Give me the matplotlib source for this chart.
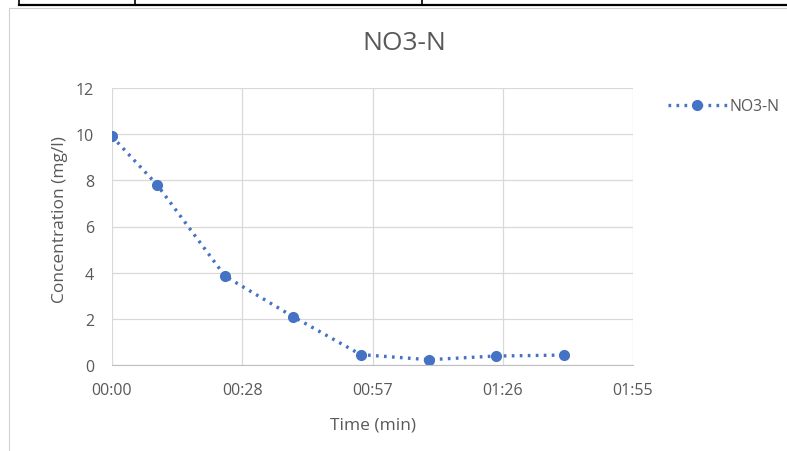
import matplotlib
matplotlib.use("Agg")
import matplotlib.pyplot as plt
from matplotlib.lines import Line2D
from matplotlib.patches import Rectangle
from matplotlib.ticker import FuncFormatter

# data (time in minutes, concentration in mg/l)
time_min = [0, 10, 25, 40, 55, 70, 85, 100]
no3_n = [9.9, 7.8, 3.85, 2.1, 0.45, 0.23, 0.39, 0.43]
x_ticks = [0, 28.8, 57.6, 86.4, 115.2]   # Excel major unit 0.02 day
y_ticks = [0, 2, 4, 6, 8, 10, 12]

W, H = 787, 452
BLUE = "#4472C4"
TXT = "#595959"
GRID = "#D9D9D9"

plt.rcParams['font.family'] = ['Open Sans', 'DejaVu Sans']


def fx(px):
    return px / W


def fy(py):
    return 1 - py / H


def hhmm(v, pos):
    return "%02d:%02d" % (int(v // 60), int(v % 60))


fig = plt.figure(figsize=(W / 100, H / 100), dpi=100)

# table border above the chart
fig.add_artist(Line2D([fx(19), fx(787)], [fy(6), fy(6)], color="black", lw=1.6))
for xv in [19, 135, 422]:
    fig.add_artist(Line2D([fx(xv), fx(xv)], [fy(0), fy(6)], color="black", lw=1.2))

# chart area frame
fig.add_artist(Rectangle((fx(9), fy(470)), fx(800), fy(9) - fy(470),
                         fill=False, ec="#D0D0D0", lw=0.8))

# plot area in pixels: x 112..633, y 89..366
ax = fig.add_axes([fx(112), fy(366), fx(633 - 112), fy(89) - fy(366)])
ax.plot(time_min, no3_n, linestyle=(0, (0.8, 1.6)), lw=2.4, color=BLUE,
        marker="o", markersize=7, label="NO3-N")

ax.set_xlim(x_ticks[0], x_ticks[-1])
ax.set_ylim(y_ticks[0], y_ticks[-1])
ax.set_xticks(x_ticks)
ax.set_yticks(y_ticks)
ax.xaxis.set_major_formatter(FuncFormatter(hhmm))
ax.grid(True, color=GRID, lw=0.9)
ax.set_axisbelow(True)
for s in ["top", "right", "left"]:
    ax.spines[s].set_visible(False)
ax.spines["bottom"].set_color("#BFBFBF")
ax.tick_params(length=0, colors=TXT, labelsize=11.5)
ax.tick_params(axis="x", pad=12)
ax.tick_params(axis="y", pad=13)

ax.set_xlabel("Time (min)", color=TXT, fontsize=12.5, va="center")
ax.xaxis.set_label_coords(0.5, (366 - 425) / 277)
ax.set_ylabel("Concentration (mg/l)", color=TXT, fontsize=12.5, va="center")
ax.yaxis.set_label_coords((60 - 112) / 521, (366 - 220) / 277)

fig.text(fx(404), fy(43), "NO3-N", ha="center", va="center", color=TXT, fontsize=19)

fig.legend(loc="center left", bbox_to_anchor=(fx(668), fy(107)), frameon=False,
           borderaxespad=0, borderpad=0,
           fontsize=11.3, labelcolor=TXT, handlelength=3.75, handletextpad=0.2)

fig.savefig("out.png", dpi=100)
